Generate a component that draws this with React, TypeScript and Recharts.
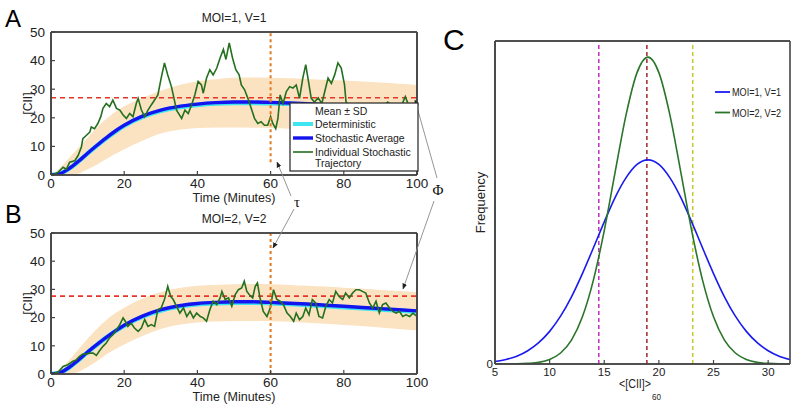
import React from 'react';
import { ComposedChart, Line, Area, XAxis, YAxis, ReferenceLine } from 'recharts';

const SANS = "'Liberation Sans', Arial, Helvetica, sans-serif";
const SERIF = "'Liberation Serif', 'Times New Roman', serif";

// ---------- time-course panels (A, B) ----------
const timeTicks = [0, 20, 40, 60, 80, 100];
const ciiTicks = [0, 10, 20, 30, 40, 50];
const smoothTime = [0, 2.5, 5, 7.5, 10, 12.5, 15, 17.5, 20, 25, 30, 35, 40, 45, 50, 55, 60, 65, 70, 75, 80, 85, 90, 95, 100];

const avgA = [0, 0.5, 2.3, 4.8, 7.6, 10.3, 12.9, 15.3, 17.4, 20.6, 22.7, 24, 24.8, 25.3, 25.5, 25.5, 25.4, 25.2, 24.9, 24.6, 24.3, 23.9, 23.5, 23, 22.5];
const detA = [0, 0.5, 2.2, 4.7, 7.5, 10.2, 12.7, 15.1, 17.2, 20.3, 22.4, 23.7, 24.5, 25, 25.2, 25.2, 25.1, 24.9, 24.6, 24.3, 24, 23.6, 23.2, 22.7, 22.2];
const loA = [0, 0, 0, 0.5, 2, 3.6, 5.5, 7.3, 9, 12, 14.5, 15.8, 16.4, 16.6, 16.6, 16.5, 16.4, 16.2, 16, 15.7, 15.4, 15, 14.6, 14.2, 13.8];
const hiA = [0, 2.5, 6, 9.5, 13, 16.5, 19.5, 22, 24, 27, 29.5, 31.5, 32.8, 33.5, 34, 34.1, 34, 33.8, 33.6, 33.3, 33, 32.7, 32.3, 31.9, 31.5];

const avgB = [0, 0.5, 2.4, 5, 7.8, 10.4, 12.9, 15.2, 17.3, 20.5, 22.8, 24.2, 25, 25.4, 25.6, 25.6, 25.4, 25.1, 24.8, 24.4, 24, 23.6, 23.2, 22.8, 22.4];
const detB = [0, 0.5, 2.3, 4.9, 7.7, 10.3, 12.8, 15.1, 17.1, 20.3, 22.5, 23.9, 24.7, 25.1, 25.3, 25.3, 25.1, 24.8, 24.5, 24.1, 23.7, 23.3, 22.9, 22.5, 22.1];
const loB = [0, 0, 0, 0.8, 2.5, 4.5, 6.8, 8.8, 10.5, 13.5, 16, 17.5, 18.3, 18.6, 18.8, 18.8, 18.7, 18.5, 18.2, 17.8, 17.4, 17, 16.5, 16, 15.5];
const hiB = [0, 2, 5, 8.8, 12.5, 16, 19, 21.5, 23.5, 26.8, 29, 30.5, 31.3, 31.6, 31.8, 31.9, 31.8, 31.6, 31.3, 31, 30.6, 30.2, 29.8, 29.4, 29];

const trajA: [number, number][] = [
  [0, 0], [1, 0.3], [2, 1], [3.3, 2.7], [4.2, 2], [5.1, 4.5], [6.5, 5], [7.4, 6.8], [8.3, 9.8], [8.7, 12.7],
  [9.7, 13.9], [10.6, 15], [11, 16.8], [11.9, 16.2], [12.8, 18], [13.6, 20.4], [14.2, 23.3], [15.1, 25], [16, 23.9], [16.9, 26.2],
  [17.9, 23.3], [18.8, 22.7], [19.7, 21], [20.6, 19.8], [21.5, 21.5], [22.4, 20.4], [23.3, 25], [23.8, 26.8], [24.7, 22.7], [25.6, 20.4],
  [26.5, 22.7], [27.4, 24.5], [28.3, 26.2], [29.2, 28], [30.1, 33.9], [31, 39.2], [31.9, 35], [32.9, 30.9], [33.4, 28], [34.3, 22.7],
  [35.7, 19.8], [36.6, 22.7], [37.5, 21.5], [38.4, 24.5], [39.3, 28], [40.2, 32.7], [41.1, 31.5], [41.6, 28.6], [42.5, 33.9], [43.4, 36.8],
  [44.3, 35], [45.3, 37.4], [46.2, 40.9], [47.1, 43.9], [47.8, 40.4], [48.7, 46.2], [49.6, 40.9], [50.5, 36.8], [51.4, 35], [52, 31.5],
  [52.9, 29.8], [53.8, 26.8], [54.7, 23.3], [55.6, 19.8], [56.5, 18], [57.4, 18.6], [58.3, 17.4], [59.2, 17.4], [60, 20.4], [60.6, 18],
  [61.4, 16.2], [62, 19.8], [62.6, 28], [63.4, 25], [64.3, 29.2], [65.2, 30.9], [66.1, 30.4], [67, 31.5], [67.9, 26.8], [68.8, 33.9],
  [69.6, 38.6], [70.2, 33.9], [71.1, 26.8], [72, 25.5], [73, 27], [74, 25], [74.8, 29.2], [75.7, 33.9], [76.6, 32], [77.5, 35],
  [78.4, 39.2], [79.3, 37.4], [80.2, 31.5], [80.6, 25.6], [82, 23], [84, 25], [86, 22.5], [88, 24.5], [90, 23], [92, 25.5],
  [94, 23.5], [96, 25], [96.8, 27.4], [97.7, 24.5], [98.5, 22], [99.3, 22.8], [100, 20.5],
];

const trajB: [number, number][] = [
  [0, 0], [2, 0.7], [3.3, 2.7], [4.6, 3.3], [6, 4.5], [6.9, 5], [7.8, 6.3], [8.7, 7.1], [9.7, 7.1], [10.6, 7.4],
  [11.5, 7.4], [12.4, 6.6], [13.3, 8.3], [14.2, 9.8], [15.1, 11], [16, 12.8], [16.9, 13.9], [17.9, 15.7], [18.8, 17.5], [19.7, 19.9],
  [20.3, 18.7], [21, 16.9], [21.9, 18], [22.8, 16.3], [23.8, 15.1], [24.7, 16.3], [25.6, 19.3], [26.5, 16.9], [27.4, 17.5], [28.3, 16.9],
  [29.2, 22.8], [30.1, 23.4], [31, 26.4], [31.9, 31.1], [32.7, 27.5], [33.4, 26.4], [34.3, 24], [35.2, 21.6], [36.2, 23.4], [37.1, 20.4],
  [38, 22.2], [38.9, 19.9], [39.8, 21.6], [40.8, 20.4], [41.6, 19.9], [42.5, 18.7], [43.4, 22.8], [44.3, 25.8], [45.3, 24.6], [46.2, 27],
  [46.7, 29.3], [47.6, 26.4], [48.5, 27], [49.4, 24], [50.3, 28.1], [51.2, 29.9], [52.1, 30.5], [52.8, 32.9], [53.5, 29.3], [54.2, 28.1],
  [55.1, 27], [55.8, 31.1], [56.4, 32.3], [57.1, 27], [58, 22.2], [59, 20.4], [59.9, 23.4], [60.8, 29.9], [61.7, 26.4], [62.6, 25.8],
  [63.5, 24.6], [64.5, 21.6], [65.4, 20.4], [66.3, 18.7], [67, 21.6], [67.9, 19.3], [68.8, 20.4], [69.6, 23.4], [70.5, 21], [71.4, 26.4],
  [72.3, 25.2], [73.2, 20.4], [74.2, 19.9], [75.1, 24], [76, 26.4], [76.9, 25.2], [77.8, 29.3], [78.7, 27.5], [79.7, 26.4], [80.5, 28.7],
  [81.5, 27], [82.4, 28.7], [83.3, 29.9], [84.2, 29.9], [85.1, 29.3], [86, 28.7], [87, 25.2], [87.9, 23.4], [88.8, 25.8], [89.7, 21.6],
  [90.6, 24.6], [91.5, 25.2], [92.5, 23.4], [93.4, 22.2], [94.3, 21.6], [95.2, 22.2], [96.1, 20.4], [97, 21], [98, 20.4], [98.9, 21.6],
  [100, 20.4],
];

const thresholdA = 27;
const thresholdB = 27.6;
const tauTime = 60;
const tauStartA = 4.5;
const tauStartB = 0;

// ---------- distribution panel (C) ----------
const ciiMean = [5, 6, 7, 8, 9, 10, 11, 12, 13, 14, 15, 16, 17, 18, 19, 20, 21, 22, 23, 24, 25, 26, 27, 28, 29, 30, 31, 32];
const freqMoi1 = [0.0075, 0.014, 0.024, 0.041, 0.066, 0.101, 0.148, 0.208, 0.28, 0.359, 0.44, 0.516, 0.577, 0.618, 0.632, 0.618, 0.577, 0.516, 0.44, 0.359, 0.28, 0.208, 0.148, 0.101, 0.066, 0.041, 0.024, 0.014];
const freqMoi2 = [0, 0.0001, 0.0005, 0.002, 0.005, 0.014, 0.034, 0.074, 0.146, 0.259, 0.413, 0.595, 0.772, 0.902, 0.95, 0.902, 0.772, 0.595, 0.413, 0.259, 0.146, 0.074, 0.034, 0.014, 0.005, 0.002, 0.0005, 0.0001];
const cTicks = [5, 10, 15, 20, 25, 30];
const markLow = 14.5;
const markMid = 18.9;
const markHigh = 23.1;

const BAND = '#fbe2c0';
const BLUE = '#1414ee';
const CYAN = '#3fe6f0';
const GREEN = '#24701f';
const AXIS = '#444444';
const FW = 1.6;

function buildSmooth(avg: number[], det: number[], lo: number[], hi: number[]) {
  return smoothTime.map((t, i) => ({ t, avg: avg[i], det: det[i], band: [lo[i], hi[i]] }));
}

function TimePanel(props: { top: number; marginTop: number; height: number; smooth: any[]; traj: [number, number][]; threshold: number; tauStart: number }) {
  const { top, marginTop, height, smooth, traj, threshold, tauStart } = props;
  const trajData = traj.map(([t, v]) => ({ t, v }));
  const tickStyle = { fontSize: 13.5, fill: '#222', fontFamily: SANS };
  return (
    <div style={{ position: 'absolute', left: 0, top, width: 430, height }}>
      <ComposedChart width={430} height={height} margin={{ top: marginTop, right: 13, bottom: 0, left: 21 }}>
        <XAxis xAxisId="x" dataKey="t" type="number" domain={[0, 100]} ticks={timeTicks} interval={0} allowDataOverflow
          stroke={AXIS} axisLine={{ stroke: AXIS, strokeWidth: FW }} tickLine={{ stroke: AXIS, strokeWidth: 1.2 }}
          tickSize={-4} tickMargin={7} height={30} tick={tickStyle}
          label={{ value: 'Time (Minutes)', position: 'insideBottom', offset: 3, fontSize: 12.5, fill: '#222', fontFamily: SANS }} />
        <XAxis xAxisId="xt" orientation="top" type="number" domain={[0, 100]} ticks={timeTicks} interval={0} allowDataOverflow
          mirror tick={false} tickSize={4} stroke={AXIS} axisLine={{ stroke: AXIS, strokeWidth: FW }} tickLine={{ stroke: AXIS, strokeWidth: 1.2 }} />
        <YAxis yAxisId="y" type="number" domain={[0, 50]} ticks={ciiTicks} interval={0} allowDataOverflow width={30}
          stroke={AXIS} axisLine={{ stroke: AXIS, strokeWidth: FW }} tickLine={{ stroke: AXIS, strokeWidth: 1.2 }}
          tickSize={-4} tickMargin={10} tick={tickStyle}
          label={{ value: '[CII]', angle: -90, position: 'insideLeft', offset: 7, style: { textAnchor: 'middle' }, fontSize: 12, fill: '#222', fontFamily: SANS }} />
        <YAxis yAxisId="yr" orientation="right" type="number" domain={[0, 50]} ticks={ciiTicks} interval={0} allowDataOverflow
          mirror tick={false} tickSize={4} stroke={AXIS} axisLine={{ stroke: AXIS, strokeWidth: FW }} tickLine={{ stroke: AXIS, strokeWidth: 1.2 }} />
        <Area xAxisId="x" yAxisId="y" data={smooth} dataKey="band" type="monotone" stroke="none" fill={BAND} fillOpacity={1} isAnimationActive={false} />
        <ReferenceLine xAxisId="x" yAxisId="y" y={threshold} stroke="#e8352a" strokeDasharray="5 4" strokeWidth={1.6} />
        <Line xAxisId="x" yAxisId="y" data={smooth} dataKey="det" type="monotone" stroke={CYAN} strokeWidth={4.5} dot={false} isAnimationActive={false} />
        <Line xAxisId="x" yAxisId="y" data={smooth} dataKey="avg" type="monotone" stroke={BLUE} strokeWidth={3.4} dot={false} isAnimationActive={false} />
        <Line xAxisId="x" yAxisId="y" data={trajData} dataKey="v" type="linear" stroke={GREEN} strokeWidth={1.6} dot={false} isAnimationActive={false} />
        <ReferenceLine xAxisId="x" yAxisId="y" segment={[{ x: tauTime, y: tauStart }, { x: tauTime, y: 50 }]} stroke="#e07a20" strokeDasharray="3 3" strokeWidth={2} />
        <ReferenceLine xAxisId="x" yAxisId="y" segment={[{ x: 0, y: 50 }, { x: 100, y: 50 }]} stroke={AXIS} strokeWidth={FW} ifOverflow="visible" />
        <ReferenceLine xAxisId="x" yAxisId="y" segment={[{ x: 100, y: 0 }, { x: 100, y: 50 }]} stroke={AXIS} strokeWidth={FW} ifOverflow="visible" />
        <ReferenceLine xAxisId="x" yAxisId="y" segment={[{ x: 0, y: 0 }, { x: 100, y: 0 }]} stroke={AXIS} strokeWidth={FW} ifOverflow="visible" />
        <ReferenceLine xAxisId="x" yAxisId="y" segment={[{ x: 0, y: 0 }, { x: 0, y: 50 }]} stroke={AXIS} strokeWidth={FW} ifOverflow="visible" />
      </ComposedChart>
    </div>
  );
}

function DistPanel() {
  const data = ciiMean.map((x, i) => ({ x, m1: freqMoi1[i], m2: freqMoi2[i] }));
  return (
    <div style={{ position: 'absolute', left: 420, top: 0, width: 376, height: 408 }}>
      <ComposedChart width={376} height={408} data={data} margin={{ top: 41, right: 6, bottom: 14, left: 45 }}>
        <XAxis xAxisId="x" dataKey="x" type="number" domain={[5, 32]} ticks={cTicks} interval={0} allowDataOverflow
          stroke={AXIS} axisLine={{ stroke: AXIS, strokeWidth: FW }} tickLine={{ stroke: AXIS, strokeWidth: 1.2 }}
          tickSize={-4} tickMargin={8} height={30}
          tick={{ fontSize: 11.5, fill: '#222', fontFamily: SANS }} />
        <XAxis xAxisId="xt" orientation="top" type="number" domain={[5, 32]} ticks={cTicks} interval={0} allowDataOverflow
          mirror tick={false} tickSize={4} stroke={AXIS} axisLine={{ stroke: AXIS, strokeWidth: FW }} tickLine={{ stroke: AXIS, strokeWidth: 1.2 }} />
        <YAxis yAxisId="y" type="number" domain={[0, 1]} ticks={[0]} interval={0} allowDataOverflow width={30}
          stroke={AXIS} axisLine={{ stroke: AXIS, strokeWidth: FW }} tickLine={false} tickSize={0} tickMargin={2}
          tick={{ fontSize: 11.5, fill: '#222', fontFamily: SANS }}
          label={{ value: 'Frequency', angle: -90, position: 'insideLeft', offset: 15, style: { textAnchor: 'middle' }, fontSize: 13, fill: '#222', fontFamily: SANS }} />
        <ReferenceLine xAxisId="x" yAxisId="y" x={markLow} stroke="#c02cc0" strokeDasharray="4 3" strokeWidth={1.5} />
        <ReferenceLine xAxisId="x" yAxisId="y" x={markMid} stroke="#a02828" strokeDasharray="4 3" strokeWidth={1.5} />
        <ReferenceLine xAxisId="x" yAxisId="y" x={markHigh} stroke="#c8c832" strokeDasharray="4 3" strokeWidth={1.5} />
        <Line xAxisId="x" yAxisId="y" dataKey="m1" type="monotone" stroke="#1a1aef" strokeWidth={1.6} dot={false} isAnimationActive={false} />
        <Line xAxisId="x" yAxisId="y" dataKey="m2" type="monotone" stroke="#2a752a" strokeWidth={1.6} dot={false} isAnimationActive={false} />
        <ReferenceLine xAxisId="x" yAxisId="y" segment={[{ x: 5, y: 1 }, { x: 32, y: 1 }]} stroke={AXIS} strokeWidth={FW} ifOverflow="visible" />
        <ReferenceLine xAxisId="x" yAxisId="y" segment={[{ x: 32, y: 0 }, { x: 32, y: 1 }]} stroke={AXIS} strokeWidth={FW} ifOverflow="visible" />
        <ReferenceLine xAxisId="x" yAxisId="y" segment={[{ x: 5, y: 0 }, { x: 32, y: 0 }]} stroke={AXIS} strokeWidth={FW} ifOverflow="visible" />
        <ReferenceLine xAxisId="x" yAxisId="y" segment={[{ x: 5, y: 0 }, { x: 5, y: 1 }]} stroke={AXIS} strokeWidth={FW} ifOverflow="visible" />
      </ComposedChart>
    </div>
  );
}

function Overlay() {
  const arrow = { stroke: '#8a8a8a', strokeWidth: 0.9, markerEnd: 'url(#ah)' } as any;
  const legText = { fontSize: 10.5, fontFamily: SANS, fill: '#222' } as any;
  return (
    <svg width={796} height={408} style={{ position: 'absolute', left: 0, top: 0, pointerEvents: 'none' }}>
      <defs>
        <marker id="ah" viewBox="0 0 10 10" refX="9" refY="5" markerWidth="6" markerHeight="6" markerUnits="userSpaceOnUse" orient="auto">
          <path d="M0,1 L10,5 L0,9 z" fill="#222" />
        </marker>
      </defs>
      <text x={5} y={27} fontSize={24} fontFamily={SANS} fill="#000">A</text>
      <text x={5} y={223} fontSize={25} fontFamily={SANS} fill="#000">B</text>
      <text x={443} y={50} fontSize={30} fontFamily={SANS} fill="#000">C</text>
      <text x={234} y={22} fontSize={12} fontFamily={SANS} fill="#222" textAnchor="middle">MOI=1, V=1</text>
      <text x={234} y={223} fontSize={12} fontFamily={SANS} fill="#222" textAnchor="middle">MOI=2, V=2</text>

      <text x={297} y={207} fontSize={15} fontFamily={SERIF} fill="#111" textAnchor="middle">τ</text>
      <text x={438} y={195} fontSize={15} fontFamily={SERIF} fill="#111" textAnchor="middle">Φ</text>
      <line x1={291} y1={196} x2={277} y2={162} {...arrow} />
      <line x1={294} y1={209} x2={273} y2={248} {...arrow} />
      <line x1={437} y1={178} x2={415} y2={100} {...arrow} />
      <line x1={434} y1={201} x2={403} y2={289} {...arrow} />

      <rect x={290} y={103} width={128} height={68} fill="#fff" stroke="#333" strokeWidth={1.3} />
      <text x={315} y={115} {...legText}>Mean ± SD</text>
      <line x1={293} y1={124} x2={313} y2={124} stroke={CYAN} strokeWidth={4} />
      <text x={315} y={128} {...legText}>Deterministic</text>
      <line x1={293} y1={138} x2={313} y2={138} stroke={BLUE} strokeWidth={3.4} />
      <text x={315} y={141.5} {...legText}>Stochastic Average</text>
      <line x1={293} y1={152} x2={313} y2={152} stroke={GREEN} strokeWidth={1.6} />
      <text x={315} y={155.5} {...legText}>Individual Stochastic</text>
      <text x={315} y={166.5} {...legText}>Trajectory</text>

      <line x1={715} y1={92} x2={730} y2={92} stroke="#1a1aef" strokeWidth={1.8} />
      <text x={732} y={96} fontSize={11} fontFamily={SANS} fill="#222" textLength={49} lengthAdjust="spacingAndGlyphs">MOI=1, V=1</text>
      <line x1={715} y1={112.5} x2={730} y2={112.5} stroke="#2a752a" strokeWidth={1.8} />
      <text x={732} y={116.5} fontSize={11} fontFamily={SANS} fill="#222" textLength={49} lengthAdjust="spacingAndGlyphs">MOI=2, V=2</text>

      <text x={619} y={388} fontSize={12.5} fontFamily={SANS} fill="#222" textLength={32} lengthAdjust="spacingAndGlyphs">&lt;[CII]&gt;</text>
      <text x={652} y={400} fontSize={9.5} fontFamily={SANS} fill="#222" textLength={9} lengthAdjust="spacingAndGlyphs">60</text>
    </svg>
  );
}

export default function App() {
  const smoothA = buildSmooth(avgA, detA, loA, hiA);
  const smoothB = buildSmooth(avgB, detB, loB, hiB);
  return (
    <div style={{ position: 'absolute', left: 0, top: 0, width: 796, height: 408, background: '#fff', overflow: 'hidden' }}>
      <TimePanel top={0} marginTop={32} height={205} smooth={smoothA} traj={trajA} threshold={thresholdA} tauStart={tauStartA} />
      <TimePanel top={200} marginTop={33} height={204} smooth={smoothB} traj={trajB} threshold={thresholdB} tauStart={tauStartB} />
      <DistPanel />
      <Overlay />
    </div>
  );
}
